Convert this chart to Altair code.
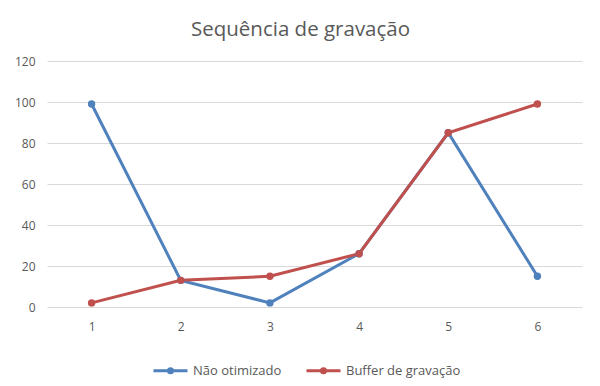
import altair as alt
import pandas as pd

categorias = ["1", "2", "3", "4", "5", "6"]
nao_otimizado = [99, 13, 2, 26, 85, 15]
buffer_gravacao = [2, 13, 15, 26, 85, 99]
series = ["Não otimizado", "Buffer de gravação"]
cores = ["#4F81BD", "#C0504D"]
y_ticks = [0, 20, 40, 60, 80, 100, 120]

rows = []
for s, vals in zip(series, [nao_otimizado, buffer_gravacao]):
    for c, v in zip(categorias, vals):
        rows.append({"x": c, "valor": v, "serie": s})
df = pd.DataFrame(rows)

FONT = "Open Sans"
TXT = "#595959"

x_enc = alt.X("x:N", sort=categorias, title=None,
              scale=alt.Scale(padding=0.5),
              axis=alt.Axis(labelAngle=0, ticks=False, domain=False, labelPadding=14,
                            labelFont=FONT, labelFontSize=12, labelColor=TXT, grid=False))
y_enc = alt.Y("valor:Q", title=None,
              scale=alt.Scale(domain=[0, 120], nice=False),
              axis=alt.Axis(values=y_ticks, ticks=False, domain=False, labelPadding=12,
                            labelFont=FONT, labelFontSize=12, labelColor=TXT,
                            gridColor="#D9D9D9", gridWidth=1))
color_enc = alt.Color("serie:N", sort=series, title=None,
                      scale=alt.Scale(domain=series, range=cores),
                      legend=alt.Legend(orient="none", legendX=105, legendY=291,
                                        direction="horizontal",
                                        symbolType="M-1,0L1,0M-0.12,0A0.12,0.12,0,1,1,0.12,0A0.12,0.12,0,1,1,-0.12,0Z",
                                        symbolSize=1156, symbolStrokeWidth=3,
                                        labelFont=FONT, labelFontSize=13, labelColor=TXT,
                                        labelOffset=4, columnPadding=18))

base = alt.Chart(df).encode(x=x_enc, y=y_enc, color=color_enc,
                            order=alt.Order("serie:N", sort="descending"))
lines = base.mark_line(strokeWidth=3)
points = base.mark_point(filled=True, size=55, opacity=1)

chart = alt.layer(lines, points).properties(
    width=535, height=246,
    title=alt.TitleParams("Sequência de gravação", font=FONT, fontSize=20.5,
                          fontWeight="normal", color=TXT, offset=15, dx=-14),
    autosize=alt.AutoSizeParams(type="none"),
    padding={"left": 39, "top": 53, "right": 10, "bottom": 71},
    background="white",
).configure_view(stroke=None)

chart.save("out.html", embed_options={"renderer": "svg", "actions": False})
